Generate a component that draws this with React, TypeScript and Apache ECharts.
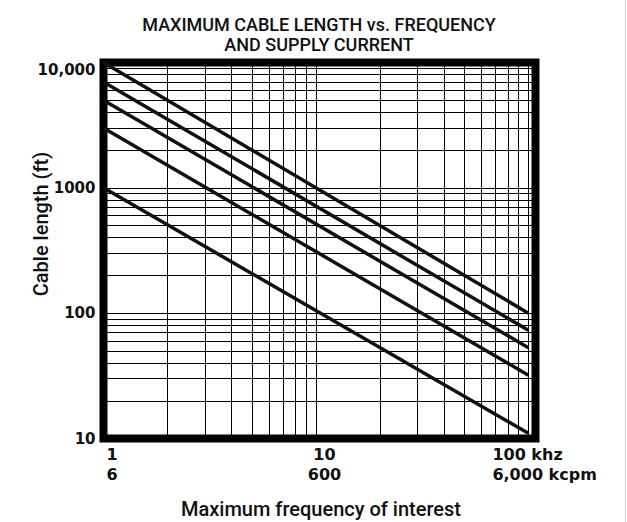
import React, { useEffect, useRef } from "react";
import * as echarts from "echarts";

const titleLines = ["MAXIMUM CABLE LENGTH vs. FREQUENCY", "AND SUPPLY CURRENT"];
const xAxisTitle = "Maximum frequency of interest";
const yAxisTitle = "Cable length (ft)";

// frequencies (khz) at which each curve is read
const curveFreqs = [1, 100];
// cable length (ft) at 1 khz and at 100 khz for each curve
const curveStart = [10000, 7000, 5000, 3000, 1000];
const curveEnd = [100, 73, 53, 32, 11];

const xMin = 1;
const xMax = 108;
const yMin = 10;
const yMax = 10000;

const xGridValues = [2, 3, 4, 5, 6, 7, 8, 9, 10, 20, 30, 40, 50, 60, 70, 80, 90, 100];
const yGridValues = [
  20, 30, 40, 50, 60, 70, 80, 90, 100,
  200, 300, 400, 500, 600, 700, 800, 900, 1000,
  2000, 3000, 4000, 5000, 6000, 7000, 8000, 9000,
];

const yTickValues = [10, 100, 1000, 10000];
const yTickLabels = ["10", "100", "1000", "10,000"];

const xTickValues = [1, 10, 100];
const xTickLabels = ["1\n6", "10\n600", "100 khz\n6,000 kcpm"];

const BLACK = "#111";

export default function App() {
  const ref = useRef<HTMLDivElement>(null);

  useEffect(() => {
    if (!ref.current) return;
    const chart = echarts.init(ref.current, null, { renderer: "svg" });

    const series: any[] = curveStart.map((s, i) => ({
      type: "line",
      data: [
        [curveFreqs[0], s],
        [curveFreqs[1], curveEnd[i]],
      ],
      showSymbol: false,
      symbol: "none",
      lineStyle: { color: BLACK, width: 3.5 },
      silent: true,
      z: 5,
    }));

    series.push({
      type: "line",
      data: [],
      silent: true,
      z: 3,
      markLine: {
        silent: true,
        symbol: ["none", "none"],
        label: { show: false },
        lineStyle: { color: "#000", width: 1, type: "solid" },
        emphasis: { disabled: true },
        data: [
          ...xGridValues.map((v) => ({ xAxis: v })),
          ...yGridValues.map((v) => ({ yAxis: v })),
        ],
      },
    });

    chart.setOption({
      animation: false,
      title: titleLines.map((t, i) => ({
        text: t,
        left: 319,
        top: 15 + i * 19.5,
        padding: 0,
        textAlign: "center",
        textStyle: {
          fontFamily: "Roboto",
          fontWeight: 500,
          fontSize: 18,
          lineHeight: 19,
          color: BLACK,
        },
      })),
      grid: {
        left: 103.5,
        top: 62.5,
        width: 432,
        height: 376,
        show: true,
        borderColor: "#000",
        borderWidth: 8,
        backgroundColor: "transparent",
        containLabel: false,
      },
      xAxis: {
        type: "log",
        logBase: 10,
        min: xMin,
        max: xMax,
        axisLine: { show: false },
        axisTick: { show: false },
        axisLabel: { show: false },
        splitLine: { show: false },
      },
      yAxis: {
        type: "log",
        logBase: 10,
        min: yMin,
        max: yMax,
        axisLine: { show: false },
        axisTick: { show: false },
        splitLine: { show: false },
        axisLabel: {
          margin: 8,
          fontFamily: "DejaVu Sans",
          fontWeight: "bold",
          fontSize: 15,
          color: BLACK,
          verticalAlignMaxLabel: "top",
          formatter: (v: number) => {
            const idx = yTickValues.findIndex((t) => Math.abs(t - v) / t < 1e-6);
            return idx >= 0 ? yTickLabels[idx] : "";
          },
        },
      },
      series,
    });

    const graphics: any[] = [];
    xTickValues.forEach((v, i) => {
      const px = chart.convertToPixel({ xAxisIndex: 0 }, v) as number;
      const last = i === xTickValues.length - 1;
      graphics.push({
        type: "text",
        x: last ? px - 36 : px + 8.5,
        y: 445,
        silent: true,
        style: {
          text: xTickLabels[i],
          fill: BLACK,
          fontFamily: "DejaVu Sans",
          fontWeight: "bold",
          fontSize: 16,
          lineHeight: 19.5,
          align: last ? "left" : "center",
          verticalAlign: "top",
        },
      });
    });
    graphics.push({
      type: "text",
      x: 321,
      y: 509,
      silent: true,
      style: {
        text: xAxisTitle,
        fill: BLACK,
        fontFamily: "Roboto",
        fontWeight: 500,
        fontSize: 20,
        align: "center",
        verticalAlign: "middle",
      },
    });
    graphics.push({
      type: "text",
      x: 41,
      y: 224,
      rotation: Math.PI / 2,
      silent: true,
      style: {
        text: yAxisTitle,
        fill: BLACK,
        fontFamily: "Roboto",
        fontWeight: 500,
        fontSize: 20,
        align: "center",
        verticalAlign: "middle",
      },
    });
    graphics.push({
      type: "line",
      silent: true,
      shape: { x1: 625.5, y1: 0, x2: 625.5, y2: 522 },
      style: { stroke: "#dddddd", lineWidth: 1.5 },
    });

    chart.setOption({ graphic: graphics });

    return () => chart.dispose();
  }, []);

  return (
    <div
      ref={ref}
      style={{ position: "absolute", left: 0, top: 0, width: 627, height: 522, background: "#fff" }}
    />
  );
}
